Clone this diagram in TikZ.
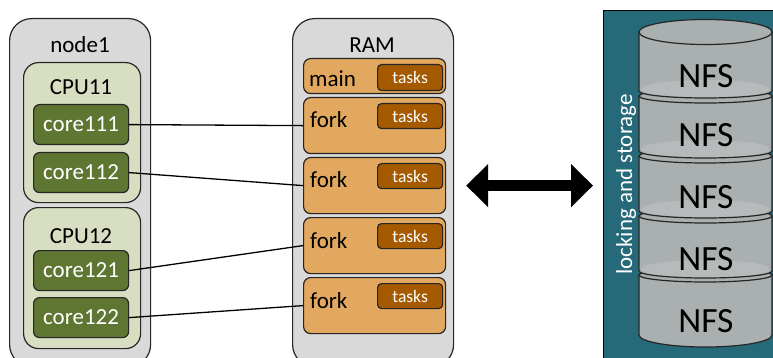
\documentclass[tikz,border=0pt]{standalone}
\usepackage{fontspec}
\setmainfont{Carlito}
\usetikzlibrary{arrows.meta,positioning,calc}
\definecolor{hostgray}{RGB}{217,217,217}
\definecolor{cpugreen}{RGB}{215,222,194}
\definecolor{coregreen}{RGB}{95,117,50}
\definecolor{forkorange}{RGB}{227,168,95}
\definecolor{taskbrown}{RGB}{165,90,0}
\definecolor{nfsteal}{RGB}{38,106,121}
\definecolor{diskgray}{RGB}{170,175,175}
\newcommand{\boxfont}{\fontsize{23}{27}\selectfont}
\newcommand{\taskfont}{\fontsize{17.5}{20}\selectfont}
\newcommand{\diskfont}{\fontsize{35.5}{40}\selectfont}
\tikzset{
  host/.style={rectangle, rounded corners=22pt, draw=black!85, fill=hostgray, line width=1.2pt,
    anchor=north west, inner sep=0pt},
  cpu/.style={rectangle, rounded corners=15pt, draw=black!85, fill=cpugreen, line width=1.2pt,
    anchor=north west, minimum width=117pt, minimum height=140pt, inner sep=0pt},
  core/.style={rectangle, rounded corners=6pt, draw=black!85, fill=coregreen, line width=1.2pt,
    anchor=north west, minimum width=95pt, minimum height=40pt, inner sep=0pt, text=white, font=\boxfont},
  proc/.style={rectangle, rounded corners=7pt, draw=black!85, fill=forkorange, line width=1.2pt,
    anchor=north west, minimum width=142pt, inner sep=0pt},
  task/.style={rectangle, rounded corners=4pt, draw=black!85, fill=taskbrown, line width=1.2pt,
    anchor=north west, minimum width=65pt, minimum height=25pt, inner sep=0pt, text=white, font=\taskfont},
  title/.style={font=\boxfont, inner sep=0pt, anchor=base},
  link/.style={line width=1.3pt},
  disk/.style={draw=black!85, line width=1.2pt},
  bothway/.style={{Triangle[length=22pt,width=42pt]}-{Triangle[length=22pt,width=42pt]},
    line width=11pt, shorten <=12pt, shorten >=10pt},
}

\begin{document}
\begin{tikzpicture}[x=1pt,y=-1pt]
  \useasboundingbox (0,0) rectangle (773,358);
  \clip (0,0) rectangle (773,358);

  % compute node with two CPUs
  \node[host, minimum width=141pt, minimum height=348pt] (node1) at (9,18) {};
  \node[title] (node1lbl) at (80,53) {node1};
  \node[cpu] (cpu11) at (23,62) {};
  \node[title] (cpu11lbl) at (81,95) {CPU11};
  \node[core] (core111) at (33,104) {core111};
  \node[core] (core112) at (33,152) {core112};
  \node[cpu, minimum height=141pt] (cpu12) at (23,207) {};
  \node[title] (cpu12lbl) at (81,243) {CPU12};
  \node[core] (core121) at (33,250) {core121};
  \node[core] (core122) at (33,297) {core122};

  % memory: main process and its forks
  \node[host, minimum width=161pt, minimum height=348pt] (ram) at (292,18) {};
  \node[title] (ramlbl) at (372,53) {RAM};
  \node[proc, minimum height=35pt] (main) at (303,58) {};
  \node[title, anchor=base west] (mainlbl) at (309,87) {main};
  \node[task, minimum height=26pt] (maintasks) at (377,64) {tasks};
  \foreach \i/\y in {1/97,2/157,3/217,4/277}{
    \node[proc, minimum height=56pt] (fork\i) at (303,\y) {};
    \node[title, anchor=base west] (flbl\i) at (310,\y+31) {fork};
    \node[task] (ftask\i) at (377,\y+6) {tasks};
  }

  % each core runs one fork
  \draw[link] (core111.east) -- (fork1.west |- flbl1.mid);
  \draw[link] (core112.east) -- (fork2.west |- flbl2.mid);
  \draw[link] (core121.east) -- (fork3.west |- flbl3.mid);
  \draw[link] (core122.east) -- (fork4.west |- flbl4.mid);

  % shared storage
  \node[rectangle, draw=black, fill=nfsteal, line width=0.8pt, anchor=north west,
    minimum width=190pt, minimum height=370pt, inner sep=0pt] (store) at (603,10) {};
  \node[font=\boxfont, text=white, rotate=90, anchor=base, inner sep=0pt] (storelbl)
    at (632,184.5) {locking and storage};

  % stack of NFS disks, bottom one first
  \foreach \k/\t/\b/\rt/\rb/\nb in {4/275/335/7/12/332, 3/216/271/7/7/270,
      2/156/211/7/7/208, 1/96/151/7/7/147, 0/32/91/12.5/7/88}{
    \fill[diskgray] (639,\t) -- (639,\b)
      arc[start angle=180, end angle=360, x radius=66.5pt, y radius=\rb pt] -- (772,\t)
      arc[start angle=0, end angle=180, x radius=66.5pt, y radius=\rt pt] -- cycle;
    \ifnum\k<4
      \fill[white, opacity=0.15] (705.5,\b-2) ellipse[x radius=64pt, y radius=9pt];
    \fi
    \draw[disk] (639,\t) -- (639,\b)
      arc[start angle=180, end angle=360, x radius=66.5pt, y radius=\rb pt] -- (772,\t);
    \draw[disk] (705.5,\t) ellipse[x radius=66.5pt, y radius=\rt pt];
    \node[font=\diskfont, anchor=base, inner sep=0pt] (nfs\k) at (706,\nb) {NFS};
  }

  \draw[bothway] (ram.east |- fork2.east) -- (store.west |- fork2.east);
\end{tikzpicture}
\end{document}
